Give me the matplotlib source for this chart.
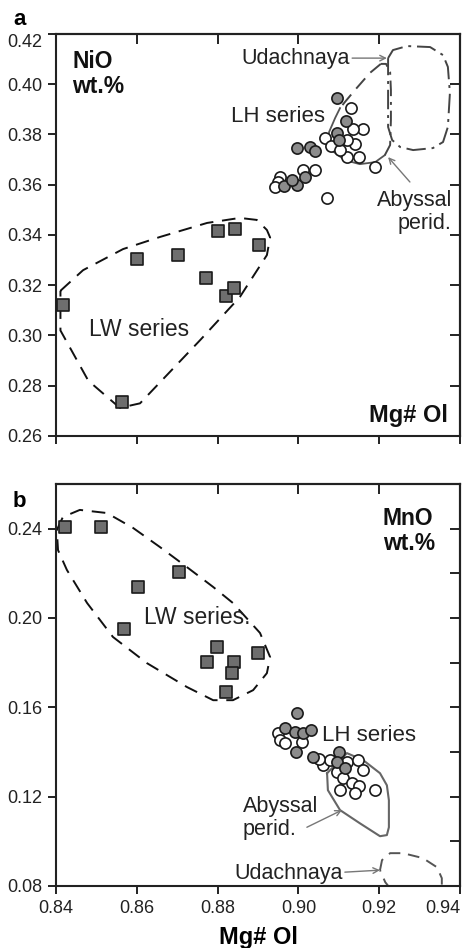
import matplotlib
matplotlib.use("Agg")
import matplotlib.pyplot as plt
import numpy as np

plt.rcParams['font.family'] = ['Liberation Sans', 'DejaVu Sans']

# ---------------- Panel a data (NiO vs Mg# Ol) ----------------
a_lw_x = [0.8417, 0.8563, 0.8600, 0.8702, 0.8771, 0.8821, 0.8841, 0.8902, 0.8800, 0.8843]
a_lw_y = [0.312, 0.2735, 0.3304, 0.332, 0.3229, 0.3157, 0.3189, 0.336, 0.3416, 0.3424]

a_lhg_x = [0.9096, 0.9118, 0.9096, 0.9100, 0.8997, 0.9029, 0.9041, 0.8964, 0.8997, 0.9016, 0.8985]
a_lhg_y = [0.3945, 0.3854, 0.3806, 0.3778, 0.3746, 0.3750, 0.3734, 0.3595, 0.3599, 0.3631, 0.3620]

a_lho_x = [0.9130, 0.9160, 0.9135, 0.9066, 0.9081, 0.9140, 0.9120, 0.9120, 0.9150, 0.9190,
           0.9103, 0.9070, 0.9041, 0.9011, 0.8955, 0.8950, 0.8942]
a_lho_y = [0.3905, 0.3822, 0.3822, 0.3786, 0.3754, 0.3762, 0.3780, 0.3710, 0.3710, 0.3670,
           0.3738, 0.3547, 0.3659, 0.3659, 0.3631, 0.3611, 0.3591]

a_lwfield_x = [0.8411, 0.8467, 0.8566, 0.8657, 0.8774, 0.8855, 0.8897, 0.8922, 0.8930, 0.8922,
               0.8855, 0.8757, 0.8608, 0.8558, 0.8480, 0.8411, 0.8411]
a_lwfield_y = [0.3178, 0.3260, 0.3344, 0.3392, 0.3448, 0.3468, 0.3460, 0.3420, 0.3390, 0.3320,
               0.3153, 0.2982, 0.2730, 0.2712, 0.2820, 0.3020, 0.3178]

a_aby_solid_x = [0.9103, 0.9091, 0.9076, 0.9073, 0.9088, 0.9115, 0.9152, 0.9190, 0.9214]
a_aby_solid_y = [0.3905, 0.3866, 0.3810, 0.3770, 0.3730, 0.3698, 0.3682, 0.3690, 0.3718]
a_aby_dd_x = [0.9214, 0.9227, 0.9229, 0.9229, 0.9227, 0.9217, 0.9204]
a_aby_dd_y = [0.3718, 0.3758, 0.3858, 0.3977, 0.4049, 0.4081, 0.4081]
a_aby_dash_x = [0.9204, 0.9177, 0.9140, 0.9115, 0.9103]
a_aby_dash_y = [0.4081, 0.4045, 0.3977, 0.3929, 0.3905]

a_uda_x = [0.9222, 0.9234, 0.9269, 0.9326, 0.9358, 0.9370, 0.9375, 0.9370, 0.9358, 0.9333,
           0.9284, 0.9252, 0.9232, 0.9222, 0.9222, 0.9222]
a_uda_y = [0.4104, 0.4136, 0.4152, 0.4148, 0.4116, 0.4069, 0.3965, 0.3830, 0.3770, 0.3746,
           0.3738, 0.3750, 0.3778, 0.3830, 0.3937, 0.4104]

# ---------------- Panel b data (MnO vs Mg# Ol) ----------------
b_lw_x = [0.8422, 0.8511, 0.8704, 0.8603, 0.8568, 0.8799, 0.8774, 0.8841, 0.8836, 0.8900, 0.8821]
b_lw_y = [0.2407, 0.2407, 0.2206, 0.2139, 0.1950, 0.1870, 0.1803, 0.1803, 0.1753, 0.1843, 0.1668]

b_lhg_x = [0.8997, 0.8967, 0.8992, 0.9011, 0.9031, 0.8994, 0.9036, 0.9100, 0.9096, 0.9115]
b_lhg_y = [0.1574, 0.1507, 0.1489, 0.1484, 0.1498, 0.1400, 0.1377, 0.1400, 0.1355, 0.1328]

b_lho_x = [0.8950, 0.8955, 0.8967, 0.9009, 0.9061, 0.9078, 0.9120, 0.9148, 0.9160, 0.9096,
           0.9110, 0.9133, 0.9150, 0.9140, 0.9190, 0.9050, 0.9103]
b_lho_y = [0.1484, 0.1453, 0.1440, 0.1444, 0.1341, 0.1364, 0.1355, 0.1364, 0.1319, 0.1310,
           0.1283, 0.1260, 0.1247, 0.1216, 0.1229, 0.1370, 0.1229]

b_lwfield_x = [0.8402, 0.8417, 0.8459, 0.8526, 0.8591, 0.8657, 0.8724, 0.8789, 0.8838, 0.8905,
               0.8930, 0.8922, 0.8888, 0.8838, 0.8789, 0.8724, 0.8625, 0.8541, 0.8477, 0.8427,
               0.8405, 0.8402]
b_lwfield_y = [0.2394, 0.2452, 0.2484, 0.2470, 0.2403, 0.2318, 0.2228, 0.2139, 0.2067, 0.1933,
               0.1825, 0.1753, 0.1677, 0.1632, 0.1632, 0.1691, 0.1798, 0.1915, 0.2067, 0.2215,
               0.2304, 0.2394]

b_aby_x = [0.9071, 0.9073, 0.9103, 0.9152, 0.9202, 0.9219, 0.9224, 0.9224, 0.9219, 0.9202,
           0.9160, 0.9120, 0.9071]
b_aby_y = [0.1305, 0.1229, 0.1140, 0.1081, 0.1023, 0.1028, 0.1063, 0.1184, 0.1251, 0.1305,
           0.1364, 0.1395, 0.1305]

b_uda_x = [0.9202, 0.9207, 0.9227, 0.9259, 0.9308, 0.9343, 0.9355, 0.9355, 0.9300, 0.9240,
           0.9215, 0.9202]
b_uda_y = [0.0871, 0.0916, 0.0947, 0.0947, 0.0925, 0.0884, 0.0835, 0.0760, 0.0740, 0.0760,
           0.0817, 0.0871]

x_ticks = [0.84, 0.86, 0.88, 0.90, 0.92, 0.94]
x_ticklabels = ['0.84', '0.86', '0.88', '0.90', '0.92', '0.94']
a_yticks = [0.26, 0.28, 0.30, 0.32, 0.34, 0.36, 0.38, 0.40, 0.42]
a_yticklabels = ['0.26', '0.28', '0.30', '0.32', '0.34', '0.36', '0.38', '0.40', '0.42']
b_yticks = [0.08, 0.12, 0.16, 0.20, 0.24]
b_yticklabels = ['0.08', '0.12', '0.16', '0.20', '0.24']
b_yticks_right = [0.10, 0.12, 0.14, 0.16, 0.18, 0.20, 0.22, 0.24]

# ---------------- Figure ----------------
W, H = 463, 948
fig = plt.figure(figsize=(W / 100, H / 100), dpi=100)

ax_a = fig.add_axes([56 / W, 1 - 436 / H, 404 / W, 402 / H])
ax_b = fig.add_axes([56 / W, 1 - 886 / H, 404 / W, 402 / H])

SQ_FACE = '#6e6e6e'
CG_FACE = '#8c8c8c'
EDGE = '#1a1a1a'
TICKFS = 13
LBLFS = 15.5


def style_axes(ax, ylim, yticks, ylabels, right_ticks, show_xlabels):
    ax.set_xlim(0.84, 0.94)
    ax.set_ylim(*ylim)
    for s in ax.spines.values():
        s.set_linewidth(1.5)
        s.set_color('#222222')
    ax.set_xticks(x_ticks)
    if show_xlabels:
        ax.set_xticklabels(x_ticklabels)
    else:
        ax.set_xticklabels([])
    ax.set_yticks(yticks)
    ax.set_yticklabels(ylabels)
    ax.tick_params(axis='both', direction='out', length=6, width=1.4,
                   labelsize=TICKFS, pad=4, colors='#222222')
    top = ax.secondary_xaxis('top')
    top.set_xticks([0.86, 0.88, 0.90, 0.92])
    top.set_xticklabels([])
    top.tick_params(direction='in', length=7, width=1.4, colors='#222222')
    top.spines['top'].set_linewidth(1.5)
    right = ax.secondary_yaxis('right')
    right.set_yticks(right_ticks)
    right.set_yticklabels([])
    right.tick_params(direction='in', length=7, width=1.4, colors='#222222')
    right.spines['right'].set_linewidth(1.5)


# ---- Panel a ----
ax = ax_a
ax.plot(a_lwfield_x, a_lwfield_y, color='#111111', lw=1.4, ls=(0, (7, 4.5)), zorder=2)
ax.plot(a_aby_solid_x, a_aby_solid_y, color='#555555', lw=1.3, zorder=2)
ax.plot(a_aby_dd_x, a_aby_dd_y, color='#444444', lw=1.4, ls=(0, (8, 3, 1.5, 3)), zorder=2)
ax.plot(a_aby_dash_x, a_aby_dash_y, color='#444444', lw=1.4, ls=(0, (7, 4)), zorder=2)
ax.plot(a_uda_x, a_uda_y, color='#444444', lw=1.4, ls=(0, (10, 3, 1.5, 3)), zorder=2)
ax.scatter(a_lw_x, a_lw_y, marker='s', s=80, facecolor=SQ_FACE, edgecolor=EDGE, lw=1.2, zorder=4)
ax.scatter(a_lho_x, a_lho_y, marker='o', s=65, facecolor='white', edgecolor=EDGE, lw=1.2, zorder=3)
ax.scatter(a_lhg_x, a_lhg_y, marker='o', s=65, facecolor=CG_FACE, edgecolor=EDGE, lw=1.2, zorder=3)

ax.text(0.04, 0.96, 'NiO\nwt.%', transform=ax.transAxes, ha='left', va='top',
        fontsize=16.5, fontweight='bold', linespacing=1.1, color='#111111')
ax.text(0.97, 0.035, 'Mg# Ol', transform=ax.transAxes, ha='right', va='baseline',
        fontsize=17, fontweight='bold', color='#111111')
ax.text(0.8605, 0.3022, 'LW series', ha='center', va='center', fontsize=16.5, color='#222222')
ax.text(0.8950, 0.3870, 'LH series', ha='center', va='center', fontsize=16, color='#222222')
ax.text(0.8994, 0.4104, 'Udachnaya', ha='center', va='center', fontsize=LBLFS, color='#222222')
ax.annotate('', xy=(0.9219, 0.4104), xytext=(0.9133, 0.4104),
            arrowprops=dict(arrowstyle='->', color='#777777', lw=1.0, shrinkA=0, shrinkB=0))
ax.text(0.9380, 0.3491, 'Abyssal\nperid.', ha='right', va='center', multialignment='right',
        fontsize=LBLFS, color='#222222', linespacing=1.1)
ax.annotate('', xy=(0.9222, 0.3710), xytext=(0.9276, 0.3611),
            arrowprops=dict(arrowstyle='->', color='#777777', lw=1.0, shrinkA=0, shrinkB=0))
style_axes(ax, (0.26, 0.42), a_yticks, a_yticklabels,
           [0.28, 0.30, 0.32, 0.34, 0.36, 0.38, 0.40], False)
# top y label sits just below its tick, as in the reference
for lab in ax.get_yticklabels():
    if lab.get_text() == '0.42':
        lab.set_va('top')

# ---- Panel b ----
ax = ax_b
ax.plot(b_lwfield_x, b_lwfield_y, color='#111111', lw=1.4, ls=(0, (7, 4.5)), zorder=2)
ax.plot(b_aby_x, b_aby_y, color='#666666', lw=1.5, zorder=2)
ax.plot(b_uda_x, b_uda_y, color='#555555', lw=1.4, ls=(0, (6, 4)), zorder=2)
ax.scatter(b_lw_x, b_lw_y, marker='s', s=80, facecolor=SQ_FACE, edgecolor=EDGE, lw=1.2, zorder=4)
ax.scatter(b_lho_x, b_lho_y, marker='o', s=65, facecolor='white', edgecolor=EDGE, lw=1.2, zorder=3)
ax.scatter(b_lhg_x, b_lhg_y, marker='o', s=65, facecolor=CG_FACE, edgecolor=EDGE, lw=1.2, zorder=3)

ax.text(0.809, 0.943, 'MnO\nwt.%', transform=ax.transAxes, ha='left', va='top',
        fontsize=16.5, fontweight='bold', linespacing=1.1, color='#111111')
ax.text(0.8750, 0.2000, 'LW series.', ha='center', va='center', fontsize=16.5, color='#222222')
ax.text(0.9174, 0.1476, 'LH series', ha='center', va='center', fontsize=16, color='#222222')
ax.text(0.8863, 0.1104, 'Abyssal\nperid.', ha='left', va='center', multialignment='left',
        fontsize=LBLFS, color='#222222', linespacing=1.1)
ax.annotate('', xy=(0.9108, 0.1140), xytext=(0.9021, 0.1063),
            arrowprops=dict(arrowstyle='->', color='#777777', lw=1.0, shrinkA=0, shrinkB=0))
ax.text(0.8976, 0.0857, 'Udachnaya', ha='center', va='center', fontsize=LBLFS, color='#222222')
ax.annotate('', xy=(0.9202, 0.0871), xytext=(0.9115, 0.0862),
            arrowprops=dict(arrowstyle='->', color='#777777', lw=1.0, shrinkA=0, shrinkB=0))
style_axes(ax, (0.08, 0.26), b_yticks, b_yticklabels, b_yticks_right, True)
# last x label is pulled inside the figure, as in the reference
for lab in ax.get_xticklabels():
    if lab.get_text() == '0.94':
        lab.set_ha('right')

# panel letters and x label
fig.text(13 / W, 1 - 25 / H, 'a', ha='left', va='baseline', fontsize=16, fontweight='bold')
fig.text(13 / W, 1 - 507 / H, 'b', ha='left', va='baseline', fontsize=16, fontweight='bold')
fig.text(258 / W, 1 - 944 / H, 'Mg# Ol', ha='center', va='baseline', fontsize=17, fontweight='bold')

fig.savefig('out.png', dpi=100)
